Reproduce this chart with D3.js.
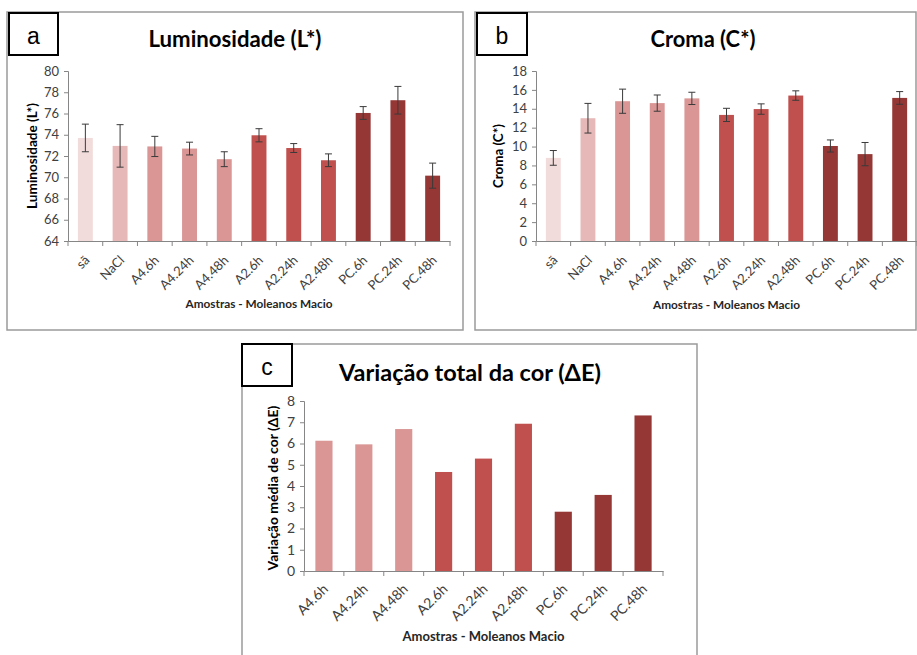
<!DOCTYPE html>
<html>
<head>
<meta charset="utf-8">
<script src="https://cdn.jsdelivr.net/npm/d3@7"></script>
<style>
  body { margin: 0; background: #fff; }
  text { font-family: Lato, "Open Sans", sans-serif; }
</style>
</head>
<body>
<div id="chart"></div>
<script>
// categories and values
var catsAB = ["sã", "NaCl", "A4.6h", "A4.24h", "A4.48h", "A2.6h", "A2.24h", "A2.48h", "PC.6h", "PC.24h", "PC.48h"];
var lumVals = [73.7, 72.95, 72.9, 72.7, 71.7, 73.95, 72.75, 71.6, 76.05, 77.25, 70.15];
var lumErr = [1.3, 2.0, 0.95, 0.6, 0.7, 0.62, 0.42, 0.6, 0.6, 1.3, 1.18];
var cromaVals = [8.8, 13.0, 14.8, 14.6, 15.1, 13.35, 13.97, 15.4, 10.06, 9.2, 15.15];
var cromaErr = [0.78, 1.57, 1.28, 0.86, 0.65, 0.7, 0.55, 0.5, 0.64, 1.23, 0.67];
var catsC = ["A4.6h", "A4.24h", "A4.48h", "A2.6h", "A2.24h", "A2.48h", "PC.6h", "PC.24h", "PC.48h"];
var deltaVals = [6.13, 5.96, 6.68, 4.66, 5.29, 6.93, 2.79, 3.58, 7.32];
var lumTicks = [64, 66, 68, 70, 72, 74, 76, 78, 80];
var cromaTicks = [0, 2, 4, 6, 8, 10, 12, 14, 16, 18];
var deltaTicks = [0, 1, 2, 3, 4, 5, 6, 7, 8];

// colour by treatment group
var groupColor = {"sã": "#f2dcdb", "NaCl": "#e6b9b8", "A4": "#d99694", "A2": "#c0504d", "PC": "#953735"};
function colorOf(c) {
    var g = c.split(".")[0];
    return groupColor[g] || groupColor[c];
}

var svg = d3.select("#chart").append("svg")
    .attr("width", 917)
    .attr("height", 655);

// scale font so the text spans the wanted width
function fit(t, w) {
    var fs = parseFloat(t.attr("font-size"));
    var len = t.node().getComputedTextLength();
    t.attr("font-size", fs * w / len);
}

function drawPanel(p) {
    var g = svg.append("g");

    // frame
    g.append("rect")
        .attr("x", p.frame[0]).attr("y", p.frame[1])
        .attr("width", p.frame[2]).attr("height", p.frame[3])
        .attr("fill", "none")
        .attr("stroke", "#9a9a9a")
        .attr("stroke-width", 1.5);

    // letter box
    g.append("rect")
        .attr("x", p.box[0]).attr("y", p.box[1])
        .attr("width", p.box[2]).attr("height", p.box[3])
        .attr("fill", "#fff")
        .attr("stroke", "#000")
        .attr("stroke-width", 2);
    g.append("text")
        .attr("x", p.box[0] + p.box[2] / 2)
        .attr("y", p.box[1] + p.box[3] / 2 + 10)
        .attr("text-anchor", "middle")
        .attr("font-size", 23)
        .style("font-family", "'Liberation Sans', Arial, sans-serif")
        .text(p.letter);

    // title
    var title = g.append("text")
        .attr("x", p.titleX).attr("y", p.titleY)
        .attr("text-anchor", "middle")
        .attr("font-size", 22)
        .attr("font-weight", "bold")
        .attr("fill", "#000")
        .text(p.title);
    fit(title, p.titleW);

    var x = d3.scaleBand()
        .domain(p.cats)
        .range([p.plot.l, p.plot.r])
        .paddingInner(0.57)
        .paddingOuter(0.285);

    var y = d3.scaleLinear()
        .domain(p.yDomain)
        .range([p.plot.b, p.plot.t]);

    // y axis
    var yAxis = g.append("g")
        .attr("transform", "translate(" + p.plot.l + ",0)")
        .call(d3.axisLeft(y).tickValues(p.yTicks).tickSize(4).tickPadding(5).tickFormat(d3.format("d")));
    yAxis.select(".domain").attr("stroke", "#868686");
    yAxis.selectAll(".tick line").attr("stroke", "#868686");
    yAxis.selectAll(".tick text")
        .attr("fill", "#404040")
        .attr("font-size", p.tickSize)
        .style("font-family", "Lato, sans-serif");

    // bars
    g.append("g")
        .selectAll("rect")
        .data(p.vals)
        .enter()
        .append("rect")
        .attr("x", function (d, i) { return x(p.cats[i]); })
        .attr("y", function (d) { return y(d); })
        .attr("width", x.bandwidth())
        .attr("height", function (d) { return y(p.yDomain[0]) - y(d); })
        .attr("fill", function (d, i) { return colorOf(p.cats[i]); });

    // error bars
    if (p.errs) {
        var eb = g.append("g")
            .selectAll("g")
            .data(p.vals)
            .enter()
            .append("g")
            .attr("stroke", "#3a3a3a")
            .attr("stroke-width", 1);
        eb.append("line")
            .attr("x1", function (d, i) { return x(p.cats[i]) + x.bandwidth() / 2; })
            .attr("x2", function (d, i) { return x(p.cats[i]) + x.bandwidth() / 2; })
            .attr("y1", function (d, i) { return y(d + p.errs[i]); })
            .attr("y2", function (d, i) { return y(d - p.errs[i]); });
        [1, -1].forEach(function (s) {
            eb.append("line")
                .attr("x1", function (d, i) { return x(p.cats[i]) + x.bandwidth() / 2 - 3.5; })
                .attr("x2", function (d, i) { return x(p.cats[i]) + x.bandwidth() / 2 + 3.5; })
                .attr("y1", function (d, i) { return y(d + s * p.errs[i]); })
                .attr("y2", function (d, i) { return y(d + s * p.errs[i]); });
        });
    }

    // x axis: line, boundary ticks, rotated labels
    var xAxis = g.append("g")
        .attr("transform", "translate(0," + p.plot.b + ")")
        .call(d3.axisBottom(x).tickSize(0).tickFormat(""));
    xAxis.select(".domain").attr("stroke", "#868686");
    g.append("g")
        .selectAll("line")
        .data(d3.range(p.cats.length + 1))
        .enter()
        .append("line")
        .attr("x1", function (i) { return p.plot.l + i * x.step(); })
        .attr("x2", function (i) { return p.plot.l + i * x.step(); })
        .attr("y1", p.plot.b)
        .attr("y2", p.plot.b + 5)
        .attr("stroke", "#868686");
    g.append("g")
        .selectAll("text")
        .data(p.cats)
        .enter()
        .append("text")
        .attr("transform", function (d) {
            return "translate(" + (x(d) + x.bandwidth() / 2 + p.lblDx) + "," + (p.plot.b + p.lblDy) + ") rotate(-45)";
        })
        .attr("text-anchor", "end")
        .attr("font-size", p.tickSize)
        .attr("fill", "#404040")
        .text(function (d) { return d; });

    // axis titles
    var xt = g.append("text")
        .attr("x", (p.plot.l + p.plot.r) / 2)
        .attr("y", p.xTitleY)
        .attr("text-anchor", "middle")
        .attr("font-size", 13)
        .attr("font-weight", "bold")
        .attr("fill", "#262626")
        .text("Amostras - Moleanos Macio");
    fit(xt, p.xTitleW);

    var yt = g.append("text")
        .attr("transform", "translate(" + p.yTitleX + "," + p.yTitleY + ") rotate(-90)")
        .attr("text-anchor", "middle")
        .attr("font-size", 13)
        .attr("font-weight", "bold")
        .attr("fill", "#000")
        .text(p.yTitle);
    fit(yt, p.yTitleW);
}

drawPanel({
    frame: [7, 12, 456, 318], box: [9, 13, 49, 42], letter: "a",
    title: "Luminosidade (L*)", titleX: 235, titleY: 47, titleW: 173,
    plot: {l: 68, r: 450, t: 71, b: 241},
    cats: catsAB, vals: lumVals, errs: lumErr,
    yDomain: [64, 80], yTicks: lumTicks,
    tickSize: 13, lblDx: 5, lblDy: 20,
    xTitleY: 308, xTitleW: 147,
    yTitle: "Luminosidade (L*)", yTitleX: 37, yTitleY: 156, yTitleW: 106
});

drawPanel({
    frame: [475, 12, 441, 318], box: [477, 13, 50, 42], letter: "b",
    title: "Croma (C*)", titleX: 703, titleY: 47, titleW: 105,
    plot: {l: 536, r: 917, t: 71, b: 241},
    cats: catsAB, vals: cromaVals, errs: cromaErr,
    yDomain: [0, 18], yTicks: cromaTicks,
    tickSize: 13, lblDx: 5, lblDy: 20,
    xTitleY: 309, xTitleW: 147,
    yTitle: "Croma (C*)", yTitleX: 503, yTitleY: 156, yTitleW: 64
});

drawPanel({
    frame: [242, 344, 455, 330], box: [242, 344, 50, 42], letter: "c",
    title: "Variação total da cor (ΔE)", titleX: 470, titleY: 381, titleW: 262,
    plot: {l: 304, r: 663, t: 401, b: 571},
    cats: catsC, vals: deltaVals, errs: null,
    yDomain: [0, 8], yTicks: deltaTicks,
    tickSize: 14, lblDx: 5, lblDy: 19,
    xTitleY: 641, xTitleW: 162,
    yTitle: "Variação média de cor (ΔE)", yTitleX: 278, yTitleY: 488, yTitleW: 165
});
</script>
</body>
</html>
